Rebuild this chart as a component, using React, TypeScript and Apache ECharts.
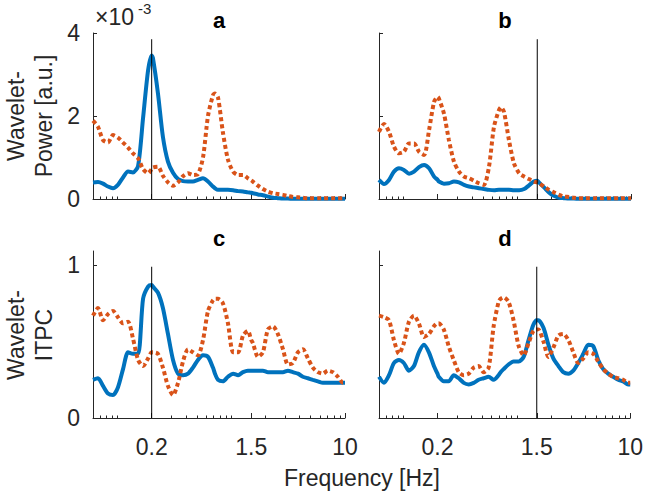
import React, { useEffect, useRef } from "react";
import * as echarts from "echarts";

// Frequencies (Hz) at which the curves were read (log-spaced)
const freqHz = [
  0.061, 0.0675, 0.0747, 0.0826, 0.0914, 0.101, 0.112, 0.124, 0.137, 0.152, 0.168, 0.186,
  0.2, 0.205, 0.227, 0.251, 0.278, 0.308, 0.341, 0.377, 0.417, 0.461, 0.51, 0.565, 0.625, 0.691,
  0.72, 0.765, 0.846, 0.936, 1.04, 1.15, 1.27, 1.4,
  1.5, 1.55, 1.72, 1.9, 2.1, 2.33, 2.57, 2.85, 3.15, 3.48, 3.86, 4.27, 4.72, 5.22, 5.78, 6.39,
  7.07, 7.82, 8.66, 9.58, 10,
];

// Panel a: wavelet power (x 10^-3)
const powerA_blue = [
  0.40, 0.41, 0.37, 0.30, 0.26, 0.34, 0.52, 0.66, 0.64, 0.80, 1.95, 3.10,
  3.46, 3.40, 2.55, 1.50, 0.90, 0.63, 0.48, 0.43, 0.42, 0.42, 0.46, 0.50, 0.42, 0.30,
  0.26, 0.22, 0.22, 0.22, 0.21, 0.19, 0.18, 0.16,
  0.15, 0.14, 0.11, 0.09, 0.06, 0.03, 0.02, 0.01, 0.01, 0.005, 0.005, 0.005, 0.005, 0.005, 0.005, 0.005,
  0.005, 0.005, 0.005, 0.005, 0.005,
];
const powerA_orange = [
  1.89, 1.74, 1.42, 1.36, 1.54, 1.48, 1.36, 1.24, 1.10, 0.98, 0.72, 0.62,
  0.72, 0.76, 0.78, 0.56, 0.40, 0.32, 0.40, 0.55, 0.62, 0.58, 0.60, 1.00, 2.00, 2.50,
  2.54, 2.45, 1.60, 0.95, 0.66, 0.58, 0.58, 0.50,
  0.45, 0.42, 0.32, 0.24, 0.18, 0.14, 0.12, 0.10, 0.07, 0.05, 0.04, 0.03, 0.02, 0.02, 0.02, 0.02,
  0.02, 0.02, 0.02, 0.02, 0.02,
];
// Panel b
const powerB_blue = [
  0.46, 0.36, 0.46, 0.66, 0.74, 0.70, 0.61, 0.66, 0.77, 0.82, 0.74, 0.54,
  0.46, 0.42, 0.37, 0.38, 0.42, 0.40, 0.34, 0.30, 0.28, 0.26, 0.24, 0.22, 0.21, 0.22,
  0.22, 0.22, 0.22, 0.21, 0.21, 0.24, 0.33, 0.42,
  0.44, 0.40, 0.28, 0.16, 0.08, 0.03, 0.02, 0.01, 0.01, 0.005, 0.005, 0.005, 0.005, 0.005, 0.005, 0.005,
  0.005, 0.005, 0.005, 0.005, 0.005,
];
const powerB_orange = [
  1.62, 1.81, 1.62, 1.26, 1.10, 1.14, 1.34, 1.34, 1.14, 1.06, 1.66, 2.34,
  2.46, 2.42, 2.06, 1.42, 0.90, 0.66, 0.54, 0.50, 0.44, 0.38, 0.34, 0.78, 1.74, 2.14,
  2.21, 2.10, 1.42, 0.86, 0.62, 0.54, 0.48, 0.42,
  0.40, 0.38, 0.30, 0.22, 0.16, 0.10, 0.06, 0.05, 0.03, 0.02, 0.02, 0.02, 0.02, 0.02, 0.02, 0.02,
  0.02, 0.02, 0.02, 0.02, 0.02,
];
// Panel c: wavelet ITPC
const itpcC_blue = [
  0.25, 0.26, 0.21, 0.16, 0.15, 0.20, 0.32, 0.43, 0.42, 0.42, 0.78, 0.86,
  0.87, 0.86, 0.82, 0.72, 0.55, 0.38, 0.29, 0.28, 0.29, 0.33, 0.38, 0.41, 0.40, 0.33,
  0.29, 0.25, 0.24, 0.27, 0.29, 0.28, 0.30, 0.31,
  0.31, 0.31, 0.31, 0.31, 0.30, 0.30, 0.30, 0.30, 0.31, 0.30, 0.29, 0.27, 0.26, 0.25, 0.24, 0.23,
  0.23, 0.23, 0.23, 0.23, 0.23,
];
const itpcC_orange = [
  0.67, 0.72, 0.64, 0.68, 0.70, 0.66, 0.62, 0.63, 0.52, 0.38, 0.34, 0.39,
  0.43, 0.43, 0.42, 0.33, 0.21, 0.15, 0.23, 0.37, 0.45, 0.43, 0.41, 0.51, 0.70, 0.77,
  0.78, 0.78, 0.75, 0.62, 0.43, 0.43, 0.54, 0.57,
  0.51, 0.49, 0.40, 0.43, 0.58, 0.60, 0.55, 0.45, 0.35, 0.36, 0.43, 0.45, 0.39, 0.33, 0.30, 0.29,
  0.31, 0.30, 0.27, 0.23, 0.23,
];
// Panel d
const itpcD_blue = [
  0.27, 0.23, 0.28, 0.36, 0.38, 0.36, 0.31, 0.34, 0.43, 0.48, 0.43, 0.34,
  0.29, 0.27, 0.24, 0.24, 0.28, 0.26, 0.23, 0.22, 0.23, 0.25, 0.26, 0.27, 0.25, 0.28,
  0.30, 0.32, 0.35, 0.37, 0.37, 0.40, 0.51, 0.61,
  0.64, 0.64, 0.59, 0.48, 0.39, 0.34, 0.30, 0.29, 0.31, 0.36, 0.42, 0.48, 0.47, 0.38, 0.32, 0.29,
  0.27, 0.25, 0.24, 0.22, 0.22,
];
const itpcD_orange = [
  0.67, 0.66, 0.64, 0.51, 0.42, 0.49, 0.63, 0.67, 0.62, 0.53, 0.55, 0.60,
  0.62, 0.62, 0.58, 0.47, 0.38, 0.30, 0.28, 0.29, 0.33, 0.34, 0.30, 0.33, 0.60, 0.76,
  0.78, 0.79, 0.76, 0.64, 0.47, 0.41, 0.49, 0.57,
  0.58, 0.58, 0.50, 0.40, 0.46, 0.54, 0.55, 0.51, 0.43, 0.36, 0.39, 0.43, 0.42, 0.37, 0.32, 0.29,
  0.27, 0.26, 0.25, 0.23, 0.23,
];

const xMinHz = 0.061;
const xMaxHz = 10;
const xTickHz = [0.2, 1.5, 10];
const xMinorHz = [0.07, 0.08, 0.09, 0.1, 0.3, 0.4, 0.5, 0.6, 0.7, 0.8, 0.9, 1, 2, 3, 4, 5, 6, 7, 8, 9];
const markerHz = [0.2, 1.5, 0.2, 1.5];
const markerTop = [3.85, 3.85, 0.99, 0.99];
const powerTicks = [0, 2, 4];
const itpcTicks = [0, 1];
const panelLetters = ["a", "b", "c", "d"];

const BLUE = "#0072BD";
const ORANGE = "#D95319";
const AX = "#262626";
const FONT = "'Liberation Sans', Arial, Helvetica, sans-serif";

export default function App() {
  const ref = useRef<HTMLDivElement>(null);
  useEffect(() => {
    if (!ref.current) return;
    const chart = echarts.init(ref.current, null, { renderer: "svg" });
    const lx = freqHz.map((f) => Math.log10(f));
    const xMin = Math.log10(xMinHz);
    const xMax = Math.log10(xMaxHz);
    const majors = xTickHz.map((f) => Math.log10(f));
    const minors = xMinorHz.map((f) => Math.log10(f));
    const grids = [
      { left: 93, top: 33, width: 252, height: 166 },
      { left: 379, top: 33, width: 252, height: 166 },
      { left: 93, top: 251, width: 252, height: 167 },
      { left: 379, top: 251, width: 252, height: 167 },
    ];
    const blues = [powerA_blue, powerB_blue, itpcC_blue, itpcD_blue];
    const oranges = [powerA_orange, powerB_orange, itpcC_orange, itpcD_orange];

    const xAxes: any[] = [];
    const yAxes: any[] = [];
    const series: any[] = [];
    for (let i = 0; i < 4; i++) {
      xAxes.push({
        type: "value",
        gridIndex: i,
        position: "bottom",
        min: xMin,
        max: xMax,
        axisLine: { show: true, onZero: false, lineStyle: { color: AX, width: 1 } },
        axisTick: { show: true, inside: true, length: 5, customValues: majors, lineStyle: { color: AX, width: 1 } },
        axisLabel: {
          show: i >= 2,
          customValues: majors,
          margin: 17,
          fontSize: 23,
          color: AX,
          fontFamily: FONT,
          hideOverlap: false,
          formatter: (v: number) => String(parseFloat(Math.pow(10, v).toPrecision(3))),
        },
        splitLine: { show: false },
      });
    }
    for (let i = 0; i < 4; i++) {
      xAxes.push({
        type: "value",
        gridIndex: i,
        position: "bottom",
        min: xMin,
        max: xMax,
        axisLine: { show: false, onZero: false },
        axisTick: { show: true, inside: true, length: 2.5, customValues: minors, lineStyle: { color: AX, width: 1 } },
        axisLabel: { show: false },
        splitLine: { show: false },
      });
    }
    for (let i = 0; i < 4; i++) {
      const ticks = i < 2 ? powerTicks : itpcTicks;
      yAxes.push({
        type: "value",
        gridIndex: i,
        position: "left",
        min: 0,
        max: i < 2 ? 4 : 1.093,
        axisLine: { show: true, onZero: false, lineStyle: { color: AX, width: 1 } },
        axisTick: { show: true, inside: true, length: 4, customValues: ticks, lineStyle: { color: AX, width: 1 } },
        axisLabel: {
          show: i % 2 === 0,
          customValues: ticks,
          margin: 13,
          fontSize: 23,
          color: AX,
          fontFamily: FONT,
          formatter: (v: number) => String(v),
        },
        splitLine: { show: false },
      });
      series.push({
        type: "line",
        xAxisIndex: i,
        yAxisIndex: i,
        data: lx.map((x, k) => [x, blues[i][k]]),
        symbol: "none",
        smooth: 0.25,
        clip: false,
        silent: true,
        lineStyle: { color: BLUE, width: 4 },
        z: 2,
      });
      series.push({
        type: "line",
        xAxisIndex: i,
        yAxisIndex: i,
        data: lx.map((x, k) => [x, oranges[i][k]]),
        symbol: "none",
        smooth: 0.25,
        clip: false,
        silent: true,
        lineStyle: { color: ORANGE, width: 4, type: [4, 3], cap: "butt" },
        z: 3,
      });
      const mx = Math.log10(markerHz[i]);
      series.push({
        type: "line",
        xAxisIndex: i,
        yAxisIndex: i,
        data: [
          [mx, 0],
          [mx, markerTop[i]],
        ],
        symbol: "none",
        silent: true,
        lineStyle: { color: "#000", width: 1 },
        z: 4,
      });
    }

    const txt = (text: string, x: number, y: number, extra: any = {}) => ({
      type: "text",
      x,
      y,
      rotation: extra.rotation || 0,
      style: {
        text,
        fontSize: extra.fontSize || 23,
        fontWeight: extra.fontWeight || "normal",
        fontFamily: FONT,
        fill: extra.fill || AX,
        align: extra.align || "center",
        verticalAlign: "middle",
      },
    });
    const titleX = [219, 505, 219, 505];
    const titleY = [20, 20, 238, 238];
    const graphics: any[] = [
      txt("×10", 95, 17, { align: "left" }),
      txt("-3", 138, 8, { align: "left", fontSize: 15 }),
      txt("Wavelet-", 16, 116, { rotation: Math.PI / 2 }),
      txt("Power [a.u.]", 44, 116, { rotation: Math.PI / 2 }),
      txt("Wavelet-", 16, 335, { rotation: Math.PI / 2 }),
      txt("ITPC", 44, 335, { rotation: Math.PI / 2 }),
      txt("Frequency [Hz]", 362, 478),
    ];
    panelLetters.forEach((l, i) => {
      graphics.push(txt(l, titleX[i], titleY[i], { fontWeight: "bold", fontSize: 22, fill: "#000" }));
    });

    chart.setOption({
      animation: false,
      backgroundColor: "#ffffff",
      grid: grids,
      xAxis: xAxes,
      yAxis: yAxes,
      series,
      graphic: graphics,
    });
    return () => chart.dispose();
  }, []);
  return (
    <div
      ref={ref}
      style={{ position: "fixed", left: 0, top: 0, width: 646, height: 497, background: "#fff" }}
    />
  );
}
